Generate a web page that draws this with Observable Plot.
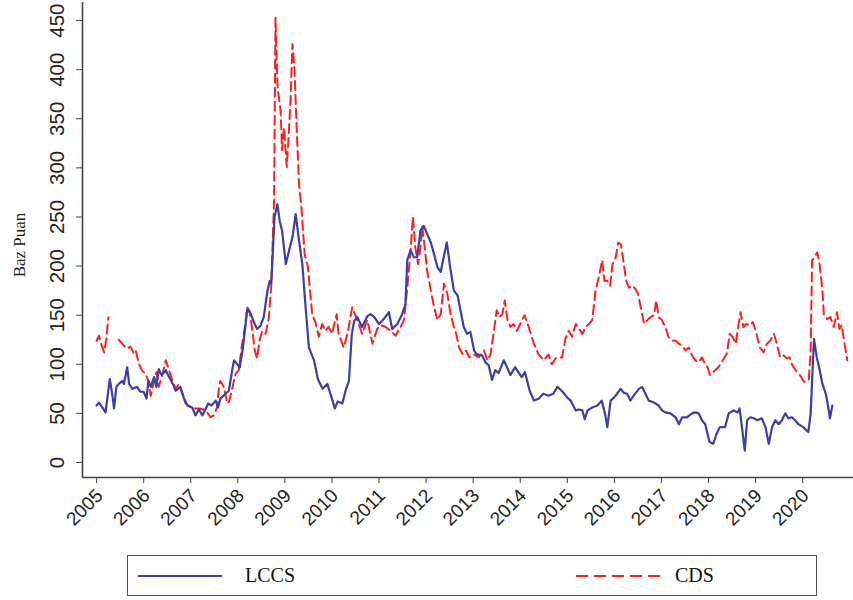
<!DOCTYPE html>
<html>
<head>
<meta charset="utf-8">
<script src="https://cdn.jsdelivr.net/npm/d3@7"></script>
<script src="https://cdn.jsdelivr.net/npm/@observablehq/plot@0.6"></script>
<style>
  html, body { margin: 0; padding: 0; background: #fff; }
  #chart { position: relative; width: 853px; height: 600px; overflow: hidden; }
  #legend {
    position: absolute; left: 127px; top: 555px; width: 690px; height: 41px;
    box-sizing: border-box; border: 1.6px solid #555; background: #fff;
    font-family: "Liberation Serif", "Times New Roman", serif; font-size: 20px; color: #111;
  }
  #legend .item { position: absolute; top: 0; height: 100%; display: flex; align-items: center; }
  #legend svg { display: block; }
</style>
</head>
<body>
<div id="chart">
  <div id="legend"></div>
</div>
<script>
// LCCS spread (basis points), approximate weekly readings by decimal year
const lccsYears = [
  2005.00, 2005.05, 2005.12, 2005.19, 2005.28, 2005.33, 2005.37, 2005.42, 2005.47, 2005.55,
  2005.58, 2005.65, 2005.69, 2005.76, 2005.86, 2005.93, 2006.00, 2006.06, 2006.10, 2006.15,
  2006.22, 2006.27, 2006.32, 2006.38, 2006.47, 2006.54, 2006.62, 2006.68, 2006.78, 2006.85,
  2006.93, 2007.03, 2007.10, 2007.17, 2007.25, 2007.32, 2007.37, 2007.44, 2007.53, 2007.58,
  2007.63, 2007.74, 2007.81, 2007.88, 2007.92, 2007.99, 2008.04, 2008.10, 2008.15, 2008.20,
  2008.27, 2008.34, 2008.41, 2008.48, 2008.55, 2008.63, 2008.68, 2008.71, 2008.78, 2008.84,
  2008.89, 2008.94, 2009.02, 2009.09, 2009.16, 2009.23, 2009.30, 2009.37, 2009.44, 2009.51,
  2009.62, 2009.70, 2009.80, 2009.90, 2010.00, 2010.06, 2010.12, 2010.22, 2010.30, 2010.36,
  2010.42, 2010.47, 2010.54, 2010.64, 2010.75, 2010.82, 2010.90, 2011.00, 2011.10, 2011.21,
  2011.28, 2011.39, 2011.49, 2011.56, 2011.60, 2011.67, 2011.74, 2011.81, 2011.88, 2011.95,
  2012.02, 2012.10, 2012.17, 2012.24, 2012.31, 2012.36, 2012.44, 2012.51, 2012.59, 2012.67,
  2012.73, 2012.80, 2012.87, 2012.94, 2013.02, 2013.08, 2013.19, 2013.26, 2013.33, 2013.40,
  2013.47, 2013.54, 2013.65, 2013.72, 2013.79, 2013.89, 2013.96, 2014.03, 2014.10, 2014.20,
  2014.29, 2014.39, 2014.49, 2014.60, 2014.70, 2014.79, 2014.90, 2015.00, 2015.07, 2015.18,
  2015.25, 2015.32, 2015.37, 2015.43, 2015.53, 2015.64, 2015.73, 2015.80, 2015.85, 2015.92,
  2015.99, 2016.06, 2016.13, 2016.20, 2016.27, 2016.34, 2016.41, 2016.52, 2016.59, 2016.66,
  2016.73, 2016.84, 2016.94, 2017.01, 2017.08, 2017.19, 2017.30, 2017.37, 2017.44, 2017.54,
  2017.65, 2017.72, 2017.79, 2017.86, 2017.93, 2018.02, 2018.10, 2018.17, 2018.24, 2018.35,
  2018.43, 2018.53, 2018.62, 2018.66, 2018.71, 2018.77, 2018.82, 2018.89, 2018.96, 2019.04,
  2019.13, 2019.21, 2019.28, 2019.35, 2019.42, 2019.49, 2019.56, 2019.63, 2019.70, 2019.77,
  2019.84, 2019.91, 2020.01, 2020.12, 2020.17, 2020.24, 2020.30, 2020.35, 2020.42, 2020.49,
  2020.52, 2020.58, 2020.63
];
const lccsValues = [
  58, 61, 56, 51, 85, 70, 55, 77, 80, 83,
  80, 97, 80, 75, 77, 72, 72, 65, 83, 77,
  87, 77, 95, 89, 94, 87, 80, 73, 77, 66,
  58, 56, 48, 54, 48, 55, 60, 58, 63, 56,
  65, 70, 73, 94, 104, 100, 97, 114, 134, 156,
  152, 143, 136, 139, 148, 175, 185, 182, 250, 263,
  246, 236, 202, 216, 229, 253, 226, 202, 158, 117,
  104, 85, 75, 80, 65, 55, 62, 60, 75, 83,
  130, 144, 148, 138, 149, 151, 148, 141, 146, 153,
  136, 141, 151, 161, 206, 216, 209, 209, 236, 241,
  233, 224, 212, 199, 194, 206, 224, 199, 175, 170,
  155, 138, 131, 133, 114, 110, 109, 102, 99, 84,
  94, 91, 104, 97, 89, 97, 92, 87, 92, 73,
  63, 65, 70, 68, 70, 77, 72, 66, 63, 53,
  54, 53, 44, 53, 56, 58, 63, 50, 36, 63,
  66, 70, 75, 71, 70, 63, 68, 75, 77, 70,
  63, 61, 58, 53, 51, 50, 46, 39, 46, 46,
  50, 51, 50, 43, 39, 21, 19, 29, 36, 36,
  50, 53, 51, 55, 36, 12, 43, 46, 45, 43,
  45, 36, 19, 36, 43, 39, 43, 50, 45, 46,
  43, 39, 36, 31, 50, 126, 107, 97, 80, 70,
  63, 45, 58
];

// CDS spread (basis points); null marks the break in early 2005
const cdsYears = [
  2005.00, 2005.05, 2005.10, 2005.16, 2005.20, 2005.25, 2005.36, 2005.47, 2005.58, 2005.65,
  2005.72, 2005.79, 2005.83, 2005.90, 2005.96, 2006.04, 2006.10, 2006.15, 2006.22, 2006.27,
  2006.32, 2006.40, 2006.47, 2006.54, 2006.61, 2006.68, 2006.75, 2006.82, 2006.89, 2007.00,
  2007.10, 2007.20, 2007.32, 2007.42, 2007.49, 2007.56, 2007.60, 2007.63, 2007.70, 2007.78,
  2007.82, 2007.88, 2007.95, 2008.02, 2008.08, 2008.15, 2008.20, 2008.25, 2008.31, 2008.36,
  2008.41, 2008.46, 2008.52, 2008.59, 2008.66, 2008.71, 2008.77, 2008.80, 2008.84, 2008.86,
  2008.91, 2008.94, 2008.98, 2009.04, 2009.09, 2009.12, 2009.16, 2009.20, 2009.25, 2009.30,
  2009.35, 2009.42, 2009.49, 2009.52, 2009.58, 2009.66, 2009.72, 2009.79, 2009.86, 2009.93,
  2010.00, 2010.10, 2010.14, 2010.25, 2010.33, 2010.43, 2010.54, 2010.64, 2010.75, 2010.86,
  2010.96, 2011.03, 2011.14, 2011.25, 2011.35, 2011.46, 2011.53, 2011.60, 2011.67, 2011.72,
  2011.77, 2011.83, 2011.88, 2011.92, 2011.97, 2012.02, 2012.10, 2012.17, 2012.24, 2012.31,
  2012.38, 2012.45, 2012.52, 2012.59, 2012.64, 2012.70, 2012.78, 2012.85, 2012.92, 2013.02,
  2013.12, 2013.23, 2013.30, 2013.37, 2013.44, 2013.50, 2013.56, 2013.62, 2013.67, 2013.73,
  2013.79, 2013.86, 2013.93, 2014.00, 2014.09, 2014.18, 2014.29, 2014.39, 2014.50, 2014.60,
  2014.67, 2014.77, 2014.89, 2014.96, 2015.03, 2015.10, 2015.18, 2015.25, 2015.32, 2015.39,
  2015.46, 2015.53, 2015.60, 2015.67, 2015.74, 2015.79, 2015.85, 2015.91, 2015.96, 2016.03,
  2016.08, 2016.14, 2016.20, 2016.25, 2016.31, 2016.38, 2016.44, 2016.50, 2016.56, 2016.63,
  2016.70, 2016.77, 2016.84, 2016.89, 2016.94, 2017.01, 2017.08, 2017.15, 2017.23, 2017.30,
  2017.37, 2017.44, 2017.51, 2017.58, 2017.65, 2017.72, 2017.79, 2017.86, 2017.93, 2017.98,
  2018.03, 2018.10, 2018.21, 2018.28, 2018.39, 2018.45, 2018.51, 2018.58, 2018.63, 2018.68,
  2018.74, 2018.80, 2018.89, 2018.94, 2019.01, 2019.09, 2019.17, 2019.24, 2019.31, 2019.39,
  2019.45, 2019.52, 2019.60, 2019.66, 2019.72, 2019.78, 2019.88, 2019.94, 2020.03, 2020.13,
  2020.17, 2020.20, 2020.25, 2020.31, 2020.36, 2020.42, 2020.45, 2020.52, 2020.59, 2020.66,
  2020.73, 2020.78, 2020.83, 2020.89, 2020.95
];
const cdsValues = [
  124, 129, 120, 112, 124, 148, null, 125, 119, 116,
  118, 111, 114, 100, 94, 90, 83, 68, 83, 92,
  77, 90, 104, 94, 83, 75, 80, 70, 60, 56,
  55, 55, 53, 46, 48, 56, 77, 83, 77, 60,
  63, 75, 90, 94, 117, 138, 158, 154, 134, 114,
  106, 124, 134, 131, 148, 180, 267, 453, 386, 376,
  358, 318, 341, 301, 341, 369, 426, 404, 341, 284,
  260, 212, 199, 182, 151, 141, 128, 141, 134, 138,
  131, 151, 131, 117, 131, 158, 145, 131, 145, 121,
  136, 140, 138, 134, 129, 138, 145, 178, 216, 250,
  219, 202, 219, 240, 219, 196, 175, 158, 145, 151,
  182, 172, 151, 138, 131, 117, 110, 114, 107, 110,
  107, 114, 104, 110, 134, 155, 148, 151, 165, 145,
  138, 141, 134, 141, 150, 138, 121, 110, 104, 110,
  100, 107, 107, 126, 134, 128, 141, 136, 131, 138,
  141, 145, 175, 189, 206, 185, 185, 180, 202, 209,
  224, 222, 202, 185, 178, 180, 177, 172, 158, 141,
  145, 148, 150, 165, 148, 145, 138, 128, 124, 124,
  121, 119, 114, 117, 109, 104, 102, 107, 100, 97,
  89, 92, 97, 102, 111, 131, 128, 121, 138, 153,
  138, 141, 140, 143, 133, 117, 112, 121, 124, 131,
  121, 107, 109, 106, 107, 99, 92, 89, 82, 84,
  114, 206, 209, 214, 202, 175, 151, 146, 148, 138,
  153, 136, 140, 121, 104
];

const yTicks = [0, 50, 100, 150, 200, 250, 300, 350, 400, 450];
const xTicks = [2005, 2006, 2007, 2008, 2009, 2010, 2011, 2012, 2013, 2014, 2015, 2016, 2017, 2018, 2019, 2020];
const seriesNames = ["LCCS", "CDS"];
const yTitle = "Baz Puan";

const lccsColor = "#3b3fa6";
const cdsColor = "#ff1e1e";
const cdsDash = "9,5";

const lccs = lccsYears.map((t, i) => ({t, v: lccsValues[i]}));
const cds = cdsYears.map((t, i) => ({t, v: cdsValues[i]}));

const xDomain = [2004.70, 2021.08];
const yDomain = [-15.3, 468.4];
const axisColor = "#444";

const chart = Plot.plot({
  width: 853,
  height: 545,
  marginLeft: 82,
  marginRight: 0,
  marginTop: 2,
  marginBottom: 68,
  style: {fontFamily: "'Liberation Sans', Arial, sans-serif", background: "#fff", color: "#222"},
  x: {domain: xDomain, axis: null},
  y: {domain: yDomain, axis: null},
  marks: [
    // axis frame (left and bottom)
    Plot.ruleX([xDomain[0]], {stroke: axisColor, strokeWidth: 1.6}),
    Plot.ruleY([yDomain[0]], {stroke: axisColor, strokeWidth: 1.6}),
    Plot.axisY(yTicks, {tickSize: 6, tickFormat: () => "", stroke: axisColor, label: null}),
    Plot.axisX(xTicks, {tickSize: 6, tickFormat: () => "", stroke: axisColor, label: null}),
    Plot.text(yTicks, {
      x: xDomain[0], y: d => d, text: d => String(d),
      rotate: -90, dx: -25, textAnchor: "middle", lineAnchor: "middle",
      fontSize: 20.5, fill: "#222"
    }),
    Plot.text(xTicks, {
      x: d => d, y: yDomain[0], text: d => String(d),
      rotate: -45, dx: 3, dy: 15, textAnchor: "end", lineAnchor: "middle",
      fontSize: 19, fill: "#222"
    }),
    Plot.text([yTitle], {
      frameAnchor: "left", dx: -63, dy: 5, rotate: -90, textAnchor: "middle", lineAnchor: "middle",
      fontFamily: "'Liberation Serif', 'Times New Roman', serif", fontSize: 17, fill: "#222"
    }),
    Plot.line(cds, {x: "t", y: "v", stroke: cdsColor, strokeWidth: 2, strokeDasharray: cdsDash}),
    Plot.line(lccs, {x: "t", y: "v", stroke: lccsColor, strokeWidth: 2.2})
  ]
});

const host = document.getElementById("chart");
host.insertBefore(chart, host.firstChild);

// legend box below the plot
const legend = document.getElementById("legend");
const items = [
  {name: seriesNames[0], color: lccsColor, dash: null, lineLeft: 10, textLeft: 117},
  {name: seriesNames[1], color: cdsColor, dash: cdsDash, lineLeft: 448, textLeft: 547}
];
for (const it of items) {
  const sw = document.createElement("div");
  sw.className = "item";
  sw.style.left = it.lineLeft + "px";
  sw.innerHTML = `<svg width="84" height="6"><line x1="0" y1="3" x2="84" y2="3" stroke="${it.color}" stroke-width="2"${it.dash ? ` stroke-dasharray="12,6"` : ""}/></svg>`;
  legend.appendChild(sw);
  const lab = document.createElement("div");
  lab.className = "item";
  lab.style.left = it.textLeft + "px";
  lab.textContent = it.name;
  legend.appendChild(lab);
}
</script>
</body>
</html>
